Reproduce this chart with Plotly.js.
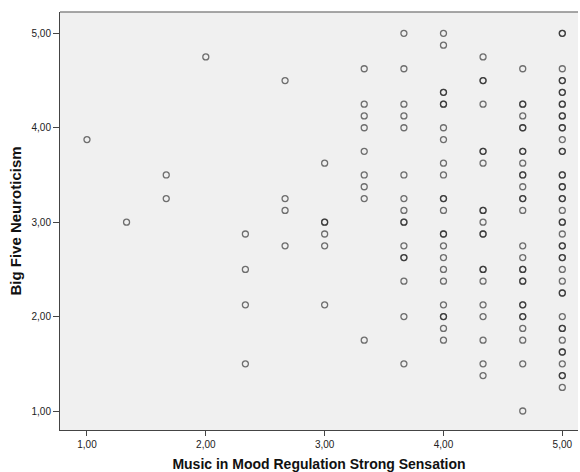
<!DOCTYPE html>
<html>
<head>
<meta charset="utf-8">
<script src="https://cdn.plot.ly/plotly-3.0.1.min.js"></script>
<style>
  html, body { margin: 0; padding: 0; background: #ffffff; }
  #chart { width: 580px; height: 472px; }
</style>
</head>
<body>
<div id="chart"></div>
<script>
// Music in Mood Regulation "Strong Sensation" score levels (x)
const sensationLevels = [1.000, 1.333, 1.667, 2.000, 2.333, 2.667, 3.000, 3.333, 3.667, 4.000, 4.333, 4.667, 5.000];

// Big Five Neuroticism scores observed at each sensation level (repeats = tied respondents)
const neuroAt100 = [3.875];
const neuroAt133 = [3.0];
const neuroAt167 = [3.5, 3.25];
const neuroAt200 = [4.75];
const neuroAt233 = [2.875, 2.5, 2.125, 1.5];
const neuroAt267 = [4.5, 3.25, 3.125, 2.75];
const neuroAt300 = [3.625, 3.0, 3.0, 2.875, 2.75, 2.125];
const neuroAt333 = [4.625, 4.25, 4.125, 4.0, 3.75, 3.5, 3.375, 3.25, 1.75];
const neuroAt367 = [5.0, 4.625, 4.25, 4.125, 4.0, 3.5, 3.25, 3.125, 3.0, 3.0, 2.75, 2.625, 2.625, 2.375, 2.0, 1.5];
const neuroAt400 = [5.0, 4.875, 4.375, 4.375, 4.25, 4.25, 4.0, 3.875, 3.625, 3.5, 3.25, 3.25, 3.125,
                    2.875, 2.875, 2.75, 2.625, 2.5, 2.375, 2.125, 2.0, 2.0, 1.875, 1.75];
const neuroAt433 = [4.75, 4.5, 4.5, 4.25, 3.75, 3.75, 3.625, 3.125, 3.125, 3.0, 2.875, 2.875,
                    2.5, 2.5, 2.375, 2.125, 2.0, 1.75, 1.5, 1.375];
const neuroAt467 = [4.625, 4.25, 4.25, 4.125, 4.0, 4.0, 3.75, 3.75, 3.625, 3.5, 3.5, 3.375, 3.25, 3.25,
                    3.125, 2.75, 2.625, 2.5, 2.5, 2.375, 2.375, 2.125, 2.125, 2.0, 2.0, 1.875, 1.75, 1.5, 1.0];
const neuroAt500 = [5.0, 5.0, 4.625, 4.5, 4.5, 4.375, 4.375, 4.25, 4.25, 4.125, 4.125, 4.0, 4.0, 3.875,
                    3.75, 3.75, 3.5, 3.5, 3.375, 3.375, 3.25, 3.25, 3.125, 3.0, 3.0, 2.875, 2.75, 2.75,
                    2.625, 2.625, 2.5, 2.375, 2.25, 2.25, 2.0, 1.875, 1.875, 1.75, 1.625, 1.625, 1.5,
                    1.375, 1.375, 1.25];

const neuroByLevel = [neuroAt100, neuroAt133, neuroAt167, neuroAt200, neuroAt233, neuroAt267, neuroAt300,
                      neuroAt333, neuroAt367, neuroAt400, neuroAt433, neuroAt467, neuroAt500];

// Axis tick values
const xTicks = [1, 2, 3, 4, 5];
const yTicks = [1, 2, 3, 4, 5];

// Flatten into one point list per respondent
const xs = [], ys = [];
neuroByLevel.forEach((vals, i) => {
  vals.forEach(v => { xs.push(sensationLevels[i]); ys.push(v); });
});

const FONT = 'Liberation Sans, Arial, sans-serif';

const trace = {
  type: 'scatter',
  mode: 'markers',
  x: xs,
  y: ys,
  hoverinfo: 'x+y',
  marker: {
    symbol: 'circle-open',
    size: 6,
    color: 'rgba(30,30,30,0.62)',
    line: { width: 1.3 }
  }
};

const layout = {
  width: 580,
  height: 472,
  margin: { l: 60, r: 2, t: 12, b: 42, pad: 0 },
  paper_bgcolor: '#ffffff',
  plot_bgcolor: '#f0f0f0',
  separators: ',.',
  showlegend: false,
  font: { family: FONT, size: 10, color: '#222222' },
  xaxis: {
    range: [0.773, 5.132],
    tickvals: xTicks,
    tickformat: '.2f',
    ticks: 'outside',
    ticklen: 5,
    tickwidth: 1,
    tickcolor: '#444444',
    showline: true,
    linecolor: '#444444',
    linewidth: 1,
    showgrid: false,
    zeroline: false,
    automargin: false,
    tickfont: { family: FONT, size: 10, color: '#222222' },
    title: {
      text: 'Music in Mood Regulation Strong Sensation',
      font: { family: FONT, size: 14, color: '#111111', weight: 'bold' },
      standoff: 13
    }
  },
  yaxis: {
    range: [0.799, 5.226],
    tickvals: yTicks,
    tickformat: '.2f',
    ticks: 'outside',
    ticklen: 6,
    tickwidth: 1,
    tickcolor: '#444444',
    showline: true,
    linecolor: '#444444',
    linewidth: 1,
    showgrid: false,
    zeroline: false,
    automargin: false,
    tickfont: { family: FONT, size: 10, color: '#222222' },
    title: {
      text: 'Big Five Neuroticism',
      font: { family: FONT, size: 15, color: '#111111', weight: 'bold' },
      standoff: 6
    }
  },
  shapes: [
    {
      type: 'line', xref: 'paper', yref: 'paper',
      x0: 0, x1: 1, y0: 1, y1: 1,
      line: { color: '#8a8a8a', width: 1.5 }
    }
  ]
};

Plotly.newPlot('chart', [trace], layout, { displayModeBar: false, staticPlot: true });
</script>
</body>
</html>
